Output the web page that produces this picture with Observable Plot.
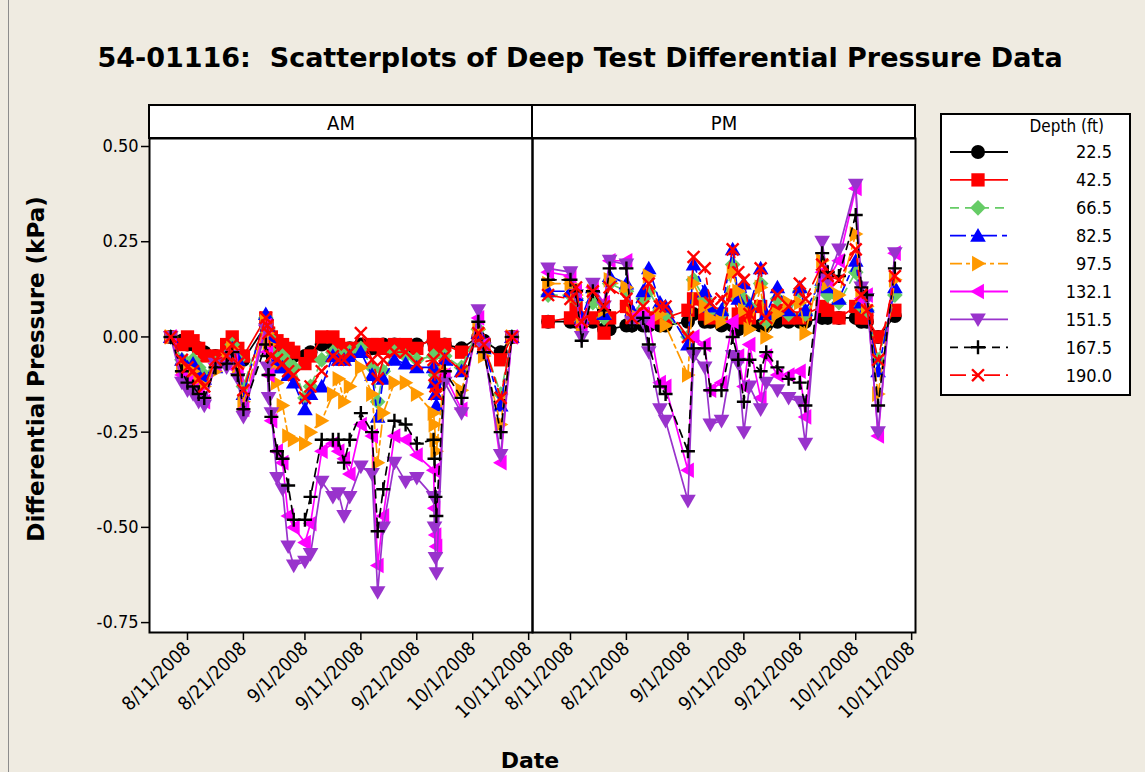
<!DOCTYPE html>
<html>
<head>
<meta charset="utf-8">
<script src="https://cdn.jsdelivr.net/npm/d3@7"></script>
<script src="https://cdn.jsdelivr.net/npm/@observablehq/plot@0.6"></script>
<style>
html, body { margin:0; padding:0; background:#EFEBE1; }
#wrap { position:relative; width:1145px; height:772px; overflow:hidden; background:#EFEBE1; }
#edge { position:absolute; left:8px; top:0; width:1px; height:772px; background:#8c8c8c; }
#title { position:absolute; left:0; top:43px; width:1160px; text-align:center; font: bold 27px "DejaVu Sans", sans-serif; line-height:30px; color:#000; white-space:pre; }
#chart { position:absolute; left:0; top:0; }
#ylab { position:absolute; left:36px; top:369px; transform: translate(-50%,-50%) rotate(-90deg); font: bold 23px "DejaVu Sans", sans-serif; white-space:nowrap; color:#000; }
#xlab { position:absolute; left:0; width:1060px; text-align:center; top:747px; font: bold 22px "DejaVu Sans", sans-serif; line-height:28px; color:#000; }
#legend { position:absolute; left:940px; top:113px; }
</style>
</head>
<body>
<div id="wrap">
  <div id="edge"></div>
  <div id="chart"></div>
  <div id="title">54-01116:  Scatterplots of Deep Test Differential Pressure Data</div>
  <div id="ylab">Differential Pressure (kPa)</div>
  <div id="xlab">Date</div>
  <div id="legend"></div>
</div>
<script>
// ---------------- DATA ----------------
const panels = ["AM", "PM"];
const depthLabels = ["22.5", "42.5", "66.5", "82.5", "97.5", "132.1", "151.5", "167.5", "190.0"];
const xTickDates = ["2008-08-11", "2008-08-21", "2008-09-01", "2008-09-11", "2008-09-21", "2008-10-01", "2008-10-11"];
const yTickValues = [0.50, 0.25, 0.00, -0.25, -0.50, -0.75];

const amDates = ["2008-08-08","2008-08-10","2008-08-11","2008-08-12","2008-08-13","2008-08-14","2008-08-16","2008-08-18","2008-08-19","2008-08-20","2008-08-21",
  "2008-08-25T00:00Z","2008-08-25T06:00Z","2008-08-25T12:00Z","2008-08-26","2008-08-27","2008-08-28","2008-08-29","2008-08-30",
  "2008-09-01","2008-09-02","2008-09-04","2008-09-06","2008-09-07","2008-09-08","2008-09-09","2008-09-11","2008-09-13","2008-09-14","2008-09-15",
  "2008-09-17","2008-09-19","2008-09-21","2008-09-24T00:00Z","2008-09-24T04:00Z","2008-09-24T08:00Z","2008-09-24T12:00Z",
  "2008-09-26","2008-09-29","2008-10-02","2008-10-03","2008-10-06","2008-10-08"];

const am22  = [0,-0.01,-0.02,-0.02,-0.03,-0.04,-0.05,-0.04,-0.02,-0.04,-0.06, 0.03,0.01,0.00,-0.02,-0.03,-0.03,-0.04,-0.05, -0.05,-0.04,-0.02,-0.02,-0.03,-0.04,-0.03,-0.02,-0.03,-0.03,-0.02, -0.02,-0.03,-0.02,-0.01,-0.02,-0.03,-0.04, -0.02,-0.03,0.00,-0.01,-0.04,0];
const am42  = [0,-0.02,0.00,-0.01,-0.03,-0.05,-0.05,-0.02,0.00,-0.03,-0.05, 0.05,0.03,0.01,0.00,-0.01,-0.02,-0.03,-0.04, -0.07,-0.05,0.00,0.00,-0.02,-0.05,-0.03,-0.03,-0.02,-0.02,-0.03, -0.02,-0.02,-0.03,0.00,-0.02,-0.03,-0.04, -0.02,-0.04,-0.01,-0.02,-0.06,0];
const am66  = [0,-0.06,-0.07,-0.06,-0.08,-0.10,-0.07,-0.05,-0.02,-0.06,-0.13, 0.05,0.02,0.00,-0.04,-0.06,-0.05,-0.07,-0.08, -0.16,-0.13,-0.06,-0.04,-0.05,-0.05,-0.04,-0.03,-0.08,-0.17,-0.09, -0.04,-0.05,-0.06,-0.05,-0.08,-0.10,-0.12, -0.05,-0.08,0.02,-0.02,-0.15,0];
const am82  = [0,-0.06,-0.08,-0.07,-0.10,-0.11,-0.08,-0.05,-0.03,-0.06,-0.15, 0.06,0.03,0.00,-0.06,-0.08,-0.08,-0.10,-0.12, -0.19,-0.15,-0.13,-0.05,-0.06,-0.06,-0.05,-0.04,-0.10,-0.21,-0.11, -0.06,-0.07,-0.08,-0.08,-0.12,-0.15,-0.18, -0.06,-0.09,0.01,-0.03,-0.18,0];
const am97  = [0,-0.08,-0.10,-0.09,-0.12,-0.13,-0.09,-0.06,-0.03,-0.08,-0.17, 0.04,0.01,-0.02,-0.08,-0.12,-0.18,-0.26,-0.27, -0.28,-0.25,-0.22,-0.15,-0.11,-0.17,-0.13,-0.08,-0.15,-0.33,-0.20, -0.12,-0.12,-0.15,-0.20,-0.23,-0.27,-0.30, -0.09,-0.14,0.02,-0.05,-0.23,0];
const am132 = [0,-0.10,-0.12,-0.14,-0.15,-0.17,-0.07,-0.07,-0.05,-0.10,-0.19, 0.03,-0.04,-0.10,-0.22,-0.30,-0.33,-0.47,-0.50, -0.54,-0.49,-0.30,-0.28,-0.30,-0.32,-0.36,-0.23,-0.26,-0.60,-0.47, -0.26,-0.27,-0.31,-0.35,-0.45,-0.52,-0.55, -0.10,-0.19,0.05,-0.02,-0.33,0];
const am151 = [0,-0.12,-0.14,-0.15,-0.17,-0.18,-0.07,-0.08,-0.05,-0.11,-0.21, 0.02,-0.08,-0.16,-0.20,-0.37,-0.40,-0.55,-0.60, -0.59,-0.57,-0.38,-0.42,-0.41,-0.47,-0.42,-0.34,-0.36,-0.67,-0.50, -0.33,-0.38,-0.37,-0.42,-0.50,-0.58,-0.62, -0.12,-0.20,0.07,-0.03,-0.31,0];
const am167 = [0,-0.09,-0.12,-0.13,-0.15,-0.16,-0.08,-0.07,-0.04,-0.10,-0.19, -0.02,-0.05,-0.10,-0.21,-0.30,-0.32,-0.39,-0.48, -0.48,-0.42,-0.27,-0.27,-0.27,-0.33,-0.27,-0.20,-0.25,-0.51,-0.40, -0.22,-0.23,-0.28,-0.27,-0.32,-0.42,-0.47, -0.09,-0.16,0.04,-0.04,-0.25,0];
const am190 = [0,-0.06,-0.08,-0.09,-0.11,-0.13,-0.06,-0.05,-0.02,-0.07,-0.14, 0.05,0.03,0.01,-0.05,-0.06,-0.07,-0.09,-0.10, -0.16,-0.13,-0.09,-0.05,-0.06,-0.06,-0.04,0.01,-0.06,-0.11,-0.06, -0.04,-0.04,-0.07,-0.06,-0.10,-0.13,-0.15, -0.05,-0.09,0.01,-0.02,-0.16,0];

const pmDates = ["2008-08-07","2008-08-11","2008-08-12","2008-08-13","2008-08-15","2008-08-17","2008-08-18","2008-08-21","2008-08-22","2008-08-24","2008-08-25","2008-08-27","2008-08-28",
  "2008-09-01","2008-09-02","2008-09-04","2008-09-05","2008-09-07","2008-09-09","2008-09-10","2008-09-11","2008-09-12","2008-09-14","2008-09-15","2008-09-17","2008-09-19","2008-09-21","2008-09-22","2008-09-25","2008-09-26","2008-09-28","2008-10-01","2008-10-02","2008-10-03","2008-10-05","2008-10-08"];

const pm22  = [0.04,0.04,0.04,0.04,0.04,0.02,0.02,0.03,0.03,0.03,0.03,0.03,0.03, 0.04,0.06,0.04,0.04,0.03,0.03,0.02,0.03,0.03,0.03,0.03,0.04,0.04,0.04,0.04,0.05,0.05,0.05,0.05,0.04,0.04,0.00,0.055];
const pm42  = [0.04,0.05,0.08,0.05,0.05,0.01,0.05,0.08,0.05,0.06,0.05,0.05,0.05, 0.07,0.10,0.06,0.05,0.06,0.11,0.06,0.05,0.05,0.08,0.05,0.07,0.05,0.05,0.06,0.08,0.07,0.05,0.08,0.05,0.05,0.00,0.07];
const pm66  = [0.11,0.11,0.10,0.04,0.09,0.05,0.14,0.12,0.05,0.10,0.12,0.07,0.06, 0.00,0.15,0.10,0.07,0.06,0.19,0.10,0.10,0.08,0.14,0.04,0.10,0.06,0.12,0.06,0.13,0.11,0.09,0.17,0.08,0.07,-0.06,0.11];
const pm82  = [0.12,0.12,0.11,0.05,0.13,0.06,0.16,0.14,0.07,0.12,0.18,0.09,0.08, -0.02,0.19,0.12,0.08,0.07,0.23,0.10,0.14,0.08,0.18,0.06,0.13,0.07,0.13,0.07,0.15,0.13,0.10,0.20,0.09,0.08,-0.09,0.13];
const pm97  = [0.14,0.14,0.11,0.03,0.12,0.07,0.15,0.13,0.06,0.05,0.16,0.06,0.03, -0.10,0.14,0.08,0.05,0.04,0.17,0.12,0.07,0.02,0.13,0.00,0.06,0.09,0.09,0.01,0.20,0.14,0.11,0.27,0.11,0.08,-0.15,0.15];
const pm132 = [0.17,0.16,0.12,0.03,0.13,0.09,0.20,0.20,0.05,0.06,0.04,-0.12,-0.13, -0.35,0.00,-0.02,-0.14,-0.12,0.04,-0.05,-0.13,-0.02,-0.16,-0.05,-0.10,-0.10,-0.09,-0.21,0.17,0.15,0.20,0.39,0.10,0.11,-0.26,0.22];
const pm151 = [0.18,0.17,0.11,0.00,0.14,0.08,0.20,0.19,0.04,0.04,-0.04,-0.19,-0.22, -0.43,-0.05,-0.08,-0.23,-0.22,-0.05,-0.07,-0.25,-0.13,-0.19,-0.12,-0.14,-0.16,-0.17,-0.28,0.25,0.15,0.23,0.40,0.13,0.10,-0.25,0.22];
const pm167 = [0.15,0.15,0.12,-0.01,0.12,0.07,0.18,0.18,0.03,0.05,-0.02,-0.13,-0.15, -0.30,-0.03,-0.03,-0.14,-0.14,0.00,-0.06,-0.17,-0.06,-0.09,-0.04,-0.08,-0.11,-0.12,-0.18,0.22,0.17,0.16,0.32,0.13,0.11,-0.18,0.18];
const pm190 = [0.11,0.10,0.13,0.04,0.12,0.08,0.13,0.10,0.05,0.08,0.14,0.08,0.08, 0.00,0.21,0.18,0.09,0.10,0.23,0.17,0.15,0.06,0.18,0.05,0.11,0.08,0.14,0.10,0.19,0.16,0.15,0.23,0.11,0.07,-0.06,0.16];

// ---------------- STYLES ----------------
const FONT = '"DejaVu Sans Condensed", "DejaVu Sans", sans-serif';
const colors = ["#000000", "#FF0000", "#66CC66", "#0000FF", "#FF9900", "#FF00FF", "#9933CC", "#000000", "#FF0000"];
const dashes = [null, null, "9,6", "16,5,5,5", "12,4,4,4", null, null, "8,6", "16,6,6,6"];

function rOf(size) { return Math.sqrt(size / Math.PI); }
const symSquare = {draw(c, s) { const r = rOf(s) * 0.95; c.rect(-r, -r, 2 * r, 2 * r); }};
const symDiamond = {draw(c, s) { const r = rOf(s) * 1.12; c.moveTo(0, -r); c.lineTo(r, 0); c.lineTo(0, r); c.lineTo(-r, 0); c.closePath(); }};
const symUp = {draw(c, s) { const r = rOf(s); c.moveTo(0, -r * 1.1); c.lineTo(r * 1.12, r * 0.85); c.lineTo(-r * 1.12, r * 0.85); c.closePath(); }};
const symDown = {draw(c, s) { const r = rOf(s); c.moveTo(0, r * 1.1); c.lineTo(r * 1.12, -r * 0.85); c.lineTo(-r * 1.12, -r * 0.85); c.closePath(); }};
const symRight = {draw(c, s) { const r = rOf(s); c.moveTo(r * 1.1, 0); c.lineTo(-r * 0.85, -r * 1.12); c.lineTo(-r * 0.85, r * 1.12); c.closePath(); }};
const symLeft = {draw(c, s) { const r = rOf(s); c.moveTo(-r * 1.1, 0); c.lineTo(r * 0.85, -r * 1.12); c.lineTo(r * 0.85, r * 1.12); c.closePath(); }};
const symPlus = {draw(c, s) { const r = rOf(s) * 1.0; c.moveTo(-r, 0); c.lineTo(r, 0); c.moveTo(0, -r); c.lineTo(0, r); }};
const symTimes = {draw(c, s) { const r = rOf(s) * 0.85; c.moveTo(-r, -r); c.lineTo(r, r); c.moveTo(r, -r); c.lineTo(-r, r); }};
const symCircle = {draw(c, s) { const r = rOf(s); c.moveTo(r, 0); c.arc(0, 0, r, 0, 2 * Math.PI); }};
const symbols = [symCircle, symSquare, symDiamond, symUp, symRight, symLeft, symDown, symPlus, symTimes];
const strokeOnly = [false, false, false, false, false, false, false, true, true];
const DOT_R = 7;

// ---------------- BUILD ROWS ----------------
const amSeries = [am22, am42, am66, am82, am97, am132, am151, am167, am190];
const pmSeries = [pm22, pm42, pm66, pm82, pm97, pm132, pm151, pm167, pm190];
const rows = [];
[["AM", amDates, amSeries], ["PM", pmDates, pmSeries]].forEach(([panel, dates, series]) => {
  series.forEach((vals, k) => {
    vals.forEach((v, i) => rows.push({panel, k, depth: depthLabels[k], date: new Date(dates[i]), value: v}));
  });
});

const xDomain = [new Date("2008-08-04T05:00Z"), new Date("2008-10-11T16:30Z")];
const yDomain = [-0.776, 0.521];
const stripSpan = 33 / 381;
const xTicks = xTickDates.map(d => new Date(d));

const seriesMarks = [];
depthLabels.forEach((lab, k) => {
  const data = rows.filter(d => d.k === k);
  seriesMarks.push(Plot.line(data, {fx: "panel", x: "date", y: "value", z: "panel",
    stroke: colors[k], strokeWidth: 1.7, strokeDasharray: dashes[k] || undefined}));
  seriesMarks.push(Plot.dot(data, strokeOnly[k]
    ? {fx: "panel", x: "date", y: "value", r: DOT_R, symbol: symbols[k], fill: "none", stroke: colors[k], strokeWidth: 2.4}
    : {fx: "panel", x: "date", y: "value", r: DOT_R, symbol: symbols[k], fill: colors[k], stroke: "none"}));
});

const chart = Plot.plot({
  width: 935, height: 772,
  marginLeft: 148, marginRight: 20, marginTop: 138, marginBottom: 140,
  style: {background: "transparent", fontFamily: FONT, color: "#000", overflow: "visible"},
  fx: {domain: panels, padding: 0, axis: null},
  x: {type: "utc", domain: xDomain},
  y: {domain: yDomain},
  marks: [
    Plot.frame({fill: "white", stroke: "none"}),
    Plot.rect(panels, {fx: d => d, x1: () => xDomain[0], x2: () => xDomain[1],
      y1: () => yDomain[1], y2: () => yDomain[1] + stripSpan, fill: "white", stroke: "black", strokeWidth: 2}),
    Plot.axisFx({anchor: "top", label: null, tickSize: 0, tickPadding: 9, fontSize: 20, fontFamily: FONT}),
    Plot.axisY({ticks: yTickValues, tickFormat: d => d.toFixed(2), tickSize: 8, tickPadding: 3, fontSize: 18, label: null, strokeWidth: 1.5}),
    Plot.axisX({ticks: xTicks, tickFormat: d3.utcFormat("%-m/%-d/%Y"), tickRotate: -45, tickSize: 8, tickPadding: 5, fontSize: 19, label: null, strokeWidth: 1.5}),
    ...seriesMarks,
    Plot.frame({stroke: "black", strokeWidth: 2})
  ]
});
document.getElementById("chart").appendChild(chart);

// ---------------- LEGEND ----------------
const LW = 191, LH = 283;
const leg = d3.select("#legend").append("svg").attr("width", LW).attr("height", LH)
  .style("font-family", FONT).style("overflow", "visible");
leg.append("rect").attr("x", 1).attr("y", 1).attr("width", LW - 2).attr("height", LH - 2)
  .attr("fill", "white").attr("stroke", "black").attr("stroke-width", 2);
leg.append("text").attr("x", 164).attr("y", 19).attr("text-anchor", "end")
  .attr("font-size", 17).text("Depth (ft)");
depthLabels.forEach((lab, k) => {
  const y = 39 + k * 27.9;
  const g = leg.append("g").attr("transform", `translate(0,${y})`);
  g.append("line").attr("x1", 10).attr("x2", 68).attr("y1", 0).attr("y2", 0)
    .attr("stroke", colors[k]).attr("stroke-width", 1.8).attr("stroke-dasharray", dashes[k]);
  const p = d3.symbol().type(symbols[k]).size(DOT_R * DOT_R * Math.PI)();
  const s = g.append("path").attr("d", p).attr("transform", "translate(38,0)");
  if (strokeOnly[k]) s.attr("fill", "none").attr("stroke", colors[k]).attr("stroke-width", 2.4);
  else s.attr("fill", colors[k]);
  g.append("text").attr("x", 172).attr("y", 0).attr("dy", "0.36em").attr("text-anchor", "end")
    .attr("font-size", 18).text(lab);
});
</script>
</body>
</html>
